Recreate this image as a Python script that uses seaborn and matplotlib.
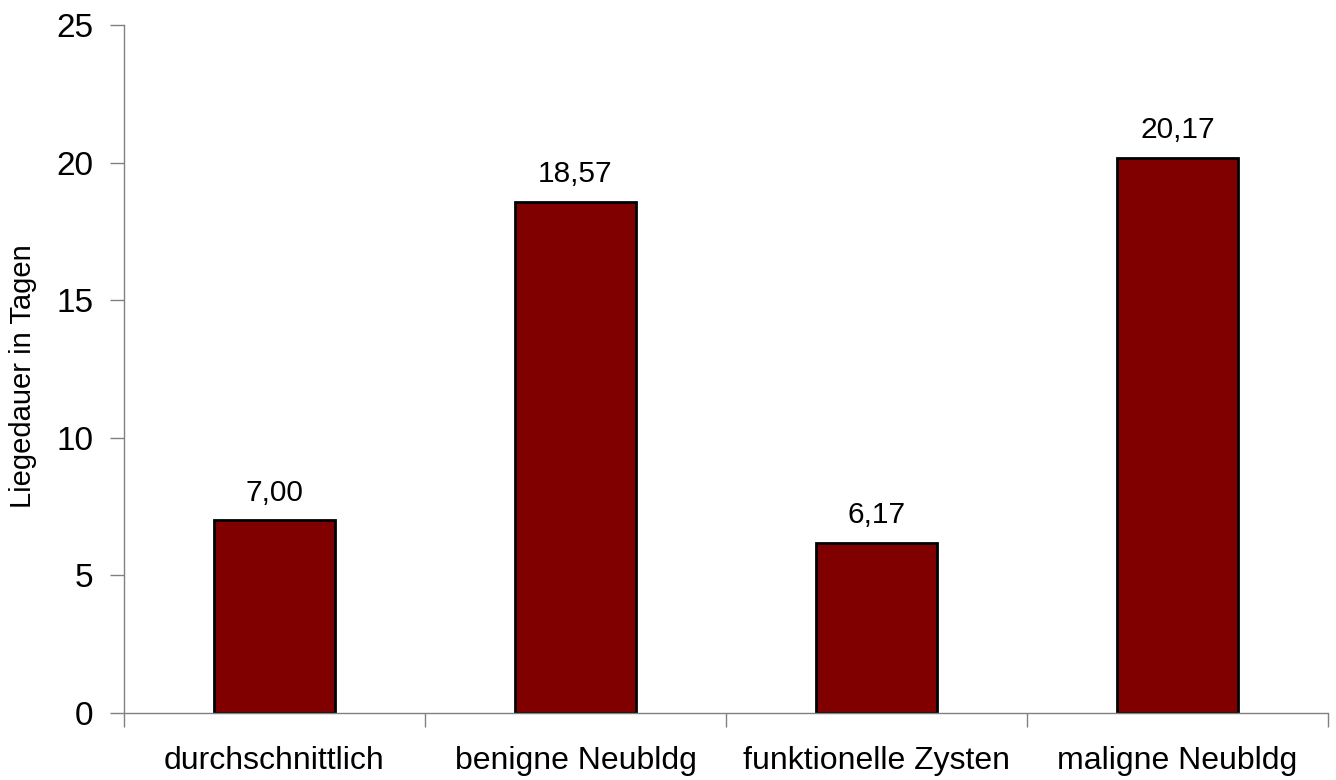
import matplotlib
matplotlib.use("Agg")
import matplotlib.pyplot as plt
import seaborn as sns
import pandas as pd
import numpy as np

categories = ["durchschnittlich", "benigne Neubldg", "funktionelle Zysten", "maligne Neubldg"]
values = [7.00, 18.57, 6.17, 20.17]
value_labels = ["7,00", "18,57", "6,17", "20,17"]
y_ticks = [0, 5, 10, 15, 20, 25]

df = pd.DataFrame({"Kategorie": categories, "Tage": values})

sns.set_style("white")
plt.rcParams['font.family'] = ['Liberation Sans', 'DejaVu Sans']
plt.rcParams['text.color'] = 'black'
plt.rcParams['axes.labelcolor'] = 'black'
plt.rcParams['xtick.labelcolor'] = 'black'
plt.rcParams['ytick.labelcolor'] = 'black'

fig = plt.figure(figsize=(13.36, 7.8), dpi=100)
ax = fig.add_axes([0.0928, 0.0859, 0.9012, 0.8821])

sns.barplot(data=df, x="Kategorie", y="Tage", color="#800000", width=0.4,
            edgecolor="black", linewidth=2, saturation=1, ax=ax)

for i, (v, lab) in enumerate(zip(values, value_labels)):
    ax.text(i, v + 0.5, lab, ha="center", va="bottom", fontsize=21.5, color="black")

ax.set_xlim(-0.5, len(categories) - 0.5)
ax.set_ylim(0, 25)
ax.set_yticks(y_ticks)
ax.set_xlabel("")
ax.set_ylabel("Liegedauer in Tagen", fontsize=21)
ax.yaxis.set_label_coords(-0.072, 0.49)

ax.tick_params(axis="y", labelsize=24, length=10, width=1, color="#808080",
               direction="out", left=True, pad=12)
ax.tick_params(axis="x", which="major", labelsize=23, length=0, pad=24)
ax.set_xticks(np.arange(-0.5, len(categories)), minor=True)
ax.tick_params(axis="x", which="minor", length=10, width=1, color="#808080",
               direction="out", bottom=True)

for side in ["top", "right"]:
    ax.spines[side].set_visible(False)
for side in ["left", "bottom"]:
    ax.spines[side].set_color("#808080")
    ax.spines[side].set_linewidth(1)

fig.savefig("out.png", dpi=100)
